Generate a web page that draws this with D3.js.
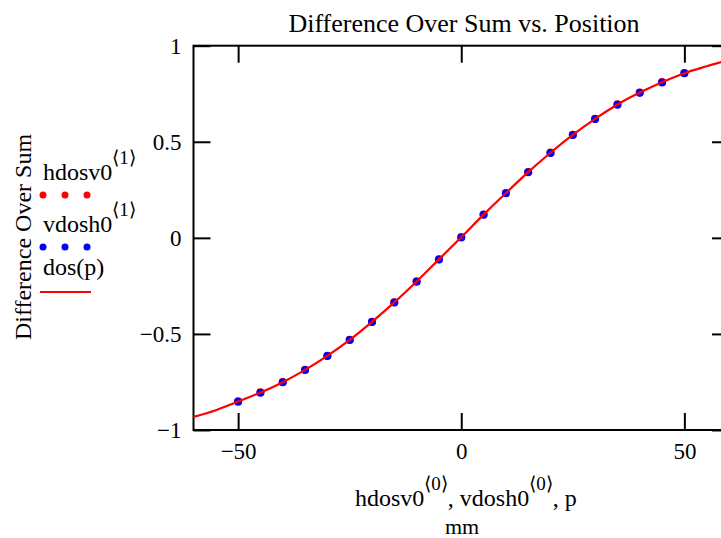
<!DOCTYPE html>
<html>
<head>
<meta charset="utf-8">
<script src="https://cdn.jsdelivr.net/npm/d3@7"></script>
<style>
  body { margin: 0; background: #fff; }
  text { font-family: "Liberation Serif", "Times New Roman", serif; fill: #000; }
</style>
</head>
<body>
<div id="chart"></div>
<script>
// sample positions (mm)
var posMm = [-50, -45, -40, -35, -30, -25, -20, -15, -10, -5, 0, 5, 10, 15, 20, 25, 30, 35, 40, 45, 50];
// hdosv0<1> (red dots)
var hdosv0 = [-0.851, -0.804, -0.750, -0.686, -0.613, -0.530, -0.436, -0.335, -0.226, -0.111, 0.004,
  0.122, 0.234, 0.343, 0.444, 0.537, 0.620, 0.695, 0.757, 0.811, 0.858];
// vdosh0<1> (blue dots)
var vdosh0 = [-0.853, -0.806, -0.752, -0.688, -0.615, -0.532, -0.438, -0.337, -0.228, -0.113, 0.002,
  0.120, 0.232, 0.341, 0.442, 0.535, 0.618, 0.693, 0.755, 0.809, 0.856];
// dos(p) curve
var curveP = [-60, -55, -50, -45, -40, -35, -30, -25, -20, -15, -10, -5, 0, 5, 10, 15, 20, 25, 30, 35, 40, 45, 50, 55, 60];
var curveDos = [-0.932, -0.897, -0.852, -0.805, -0.751, -0.687, -0.614, -0.531, -0.437, -0.336, -0.227, -0.112, 0.003,
  0.121, 0.233, 0.342, 0.443, 0.536, 0.619, 0.694, 0.756, 0.810, 0.857, 0.893, 0.926];

var xTicks = [-50, 0, 50];
var yTicks = [-1, -0.5, 0, 0.5, 1];

var plot = { left: 193.5, right: 729, top: 45.7, bottom: 430 };

var svg = d3.select("#chart")
  .append("svg")
  .attr("width", 721)
  .attr("height", 538);

var xScale = d3.scaleLinear().domain([-60, 60]).range([plot.left, plot.right]);
var yScale = d3.scaleLinear().domain([-1, 1]).range([plot.bottom, plot.top]);

var fmt = function(d) { return d3.format("")(d).replace("-", "\u2212"); };

// axes, ticks pointing inward
var xBottom = d3.axisBottom(xScale).tickValues(xTicks).tickSizeInner(-17).tickSizeOuter(0)
  .tickPadding(12).tickFormat(fmt);
var xTop = d3.axisTop(xScale).tickValues(xTicks).tickSizeInner(-17).tickSizeOuter(0).tickFormat("");
var yLeft = d3.axisLeft(yScale).tickValues(yTicks).tickSizeInner(-17).tickSizeOuter(0)
  .tickPadding(12).tickFormat(fmt);
var yRight = d3.axisRight(yScale).tickValues(yTicks).tickSizeInner(-17).tickSizeOuter(0).tickFormat("");

function styleAxis(g) {
  g.select(".domain").remove();
  g.selectAll(".tick line").attr("stroke", "#000").attr("stroke-width", 2);
  g.selectAll(".tick text")
    .style("font-family", "'Liberation Serif', serif")
    .style("font-size", "23px")
    .attr("fill", "#000");
}

svg.append("g").attr("transform", "translate(0," + plot.bottom + ")").call(xBottom).call(styleAxis)
  .selectAll(".tick text").attr("dy", "0.75em");
svg.append("g").attr("transform", "translate(0," + plot.top + ")").call(xTop).call(styleAxis);
svg.append("g").attr("transform", "translate(" + plot.left + ",0)").call(yLeft).call(styleAxis);
svg.append("g").attr("transform", "translate(" + plot.right + ",0)").call(yRight).call(styleAxis);

// frame
svg.append("rect")
  .attr("x", plot.left)
  .attr("y", plot.top)
  .attr("width", plot.right - plot.left)
  .attr("height", plot.bottom - plot.top)
  .attr("fill", "none")
  .attr("stroke", "#000")
  .attr("stroke-width", 2);

// data
var dataG = svg.append("g");

dataG.selectAll("circle.h")
  .data(posMm)
  .enter()
  .append("circle")
  .attr("class", "h")
  .attr("cx", function(d) { return xScale(d); })
  .attr("cy", function(d, i) { return yScale(hdosv0[i]); })
  .attr("r", 4)
  .attr("fill", "#ff0000");

dataG.selectAll("circle.v")
  .data(posMm)
  .enter()
  .append("circle")
  .attr("class", "v")
  .attr("cx", function(d) { return xScale(d); })
  .attr("cy", function(d, i) { return yScale(vdosh0[i]); })
  .attr("r", 4)
  .attr("fill", "#0000ff");

var line = d3.line()
  .x(function(d) { return xScale(d); })
  .y(function(d, i) { return yScale(curveDos[i]); })
  .curve(d3.curveMonotoneX);

dataG.append("path")
  .datum(curveP)
  .attr("d", line)
  .attr("fill", "none")
  .attr("stroke", "#ff0000")
  .attr("stroke-width", 2.2);

// title
svg.append("text")
  .text("Difference Over Sum vs. Position")
  .attr("x", 464)
  .attr("y", 32)
  .attr("text-anchor", "middle")
  .style("font-size", "26px");

// y axis label
svg.append("text")
  .text("Difference Over Sum")
  .attr("transform", "translate(31,237) rotate(-90)")
  .attr("text-anchor", "middle")
  .style("font-size", "24px");

// legend
function supLabel(x, y, base, sup) {
  var t = svg.append("text").attr("x", x).attr("y", y).style("font-size", "24px");
  t.append("tspan").text(base);
  t.append("tspan").text(sup).attr("dy", -16).style("font-size", "19px");
  return t;
}
supLabel(43, 180, "hdosv0", "\u27E81\u27E9");
supLabel(43, 232, "vdosh0", "\u27E81\u27E9");
svg.append("text").text("dos(p)").attr("x", 43).attr("y", 275).style("font-size", "24px");

[43, 65, 87].forEach(function(x) {
  svg.append("circle").attr("cx", x).attr("cy", 195).attr("r", 3.5).attr("fill", "#ff0000");
  svg.append("circle").attr("cx", x).attr("cy", 247).attr("r", 3.5).attr("fill", "#0000ff");
});
svg.append("line")
  .attr("x1", 40).attr("x2", 91)
  .attr("y1", 292).attr("y2", 292)
  .attr("stroke", "#ff0000")
  .attr("stroke-width", 2);

// x axis label
var xl = svg.append("text").attr("x", 355).attr("y", 506).style("font-size", "24px");
xl.append("tspan").text("hdosv0");
xl.append("tspan").text("\u27E80\u27E9").attr("dy", -16).style("font-size", "19px");
xl.append("tspan").text(", vdosh0").attr("dy", 16);
xl.append("tspan").text("\u27E80\u27E9").attr("dy", -16).style("font-size", "19px");
xl.append("tspan").text(", p").attr("dy", 16);

svg.append("text")
  .text("mm")
  .attr("x", 462)
  .attr("y", 534)
  .attr("text-anchor", "middle")
  .style("font-size", "22px");
</script>
</body>
</html>
